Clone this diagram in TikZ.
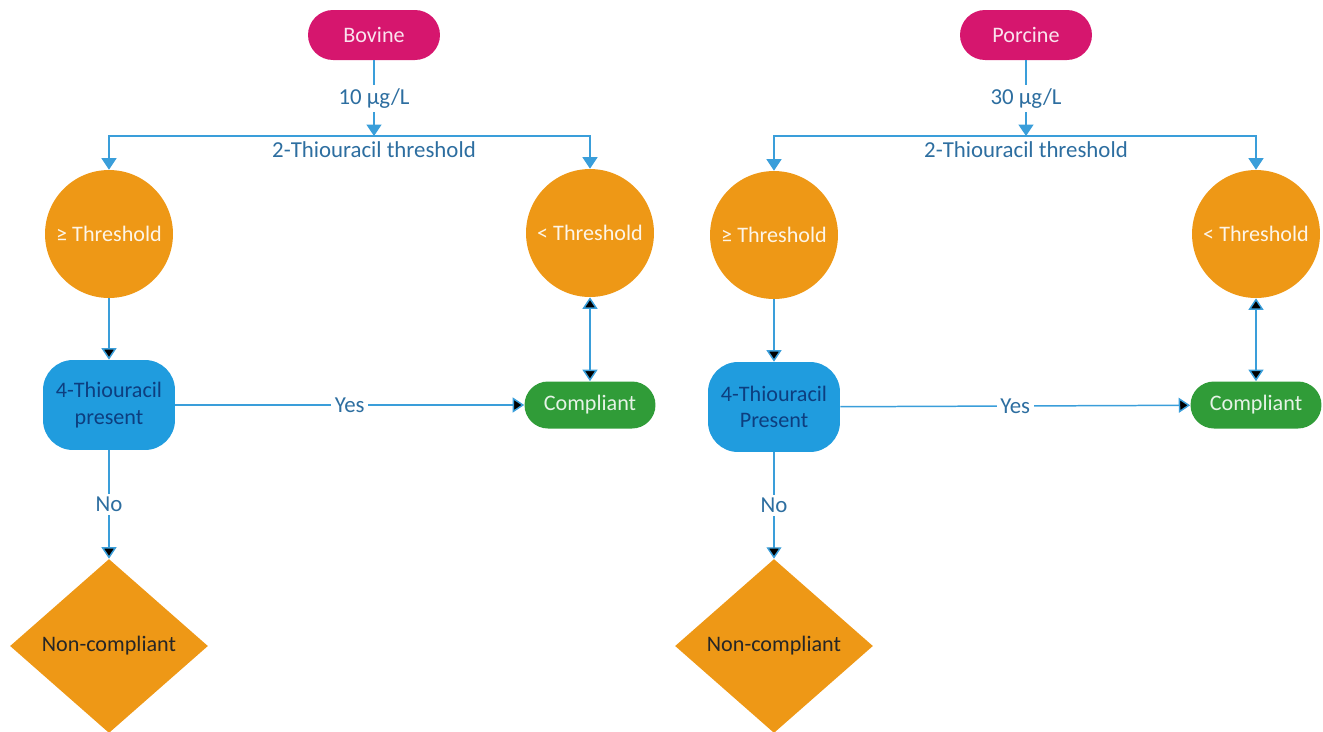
\documentclass[tikz,border=0pt]{standalone}
\usepackage{fontspec}
\setmainfont{Carlito}
\usetikzlibrary{arrows.meta,shapes.geometric}

\definecolor{berry}{RGB}{214,22,110}
\definecolor{amber}{RGB}{238,152,22}
\definecolor{sky}{RGB}{32,156,222}
\definecolor{leaf}{RGB}{48,156,56}
\definecolor{wire}{RGB}{58,158,218}
\definecolor{ink}{RGB}{45,110,160}

\tikzset{
  species/.style={rectangle,rounded corners=0.5cm,fill=berry,text=white!88!berry,
    minimum width=2.64cm,minimum height=1cm},
  level/.style={circle,fill=amber,text=white!90!amber,minimum size=2.56cm,inner sep=0pt},
  check/.style={rectangle,rounded corners=0.6cm,fill=sky,text=black!75!blue!60!sky,
    minimum width=2.64cm,minimum height=1.8cm,align=center},
  pass/.style={rectangle,rounded corners=0.47cm,fill=leaf,text=white!88!leaf,
    minimum width=2.62cm,minimum height=0.94cm},
  fail/.style={diamond,fill=amber,text=black!85,minimum width=3.96cm,minimum height=3.48cm,
    inner sep=0pt,aspect=1.14},
  tag/.style={fill=white,text=ink,inner sep=2pt,font=\fontsize{13}{15}\selectfont},
  link/.style={draw=wire,line width=0.85pt,-{Triangle[width=8.5pt,length=6.5pt]}},
}

\begin{document}
\begin{tikzpicture}[x=0.02cm,y=-0.02cm,font=\fontsize{12.6}{15}\selectfont]
		\useasboundingbox (0,0) rectangle (1323,731);
		% bovine
		\node[species] (bov) at (374,35) {Bovine};
		\coordinate (busL) at (374,136);
		\node[level] (geL) at (109,234) {≥ Threshold};
		\node[level] (ltL) at (590,233) {< Threshold};
		\node[check] (thioL) at (109,405) {4-Thiouracil\\present};
		\node[pass] (okL) at (590,405) {Compliant};
		\node[fail] (failL) at (109,646) {Non-compliant};
		%
		\draw[link] (bov) -- node[tag]{10 µg/L} (busL);
		\draw[link] (busL) -| (geL);
		\draw[link] (busL) -| (ltL);
		\node[tag,below,yshift=-1pt] (ruleL) at (busL) {2-Thiouracil threshold};
		\path[link]
		(geL) edge (thioL)
		(thioL) edge node[tag]{Yes} (okL)
		(thioL) edge node[tag]{No} (failL)
		(ltL) edge[{Triangle[width=8.5pt,length=6.5pt]}-{Triangle[width=8.5pt,length=6.5pt]}] (okL);
		% porcine
		\node[species] (por) at (1026,35) {Porcine};
		\coordinate (busR) at (1026,136);
		\node[level] (geR) at (774,235) {≥ Threshold};
		\node[level] (ltR) at (1256,234) {< Threshold};
		\node[check] (thioR) at (774,407) {4-Thiouracil\\Present};
		\node[pass] (okR) at (1256,405) {Compliant};
		\node[fail] (failR) at (774,646) {Non-compliant};
		%
		\draw[link] (por) -- node[tag]{30 µg/L} (busR);
		\draw[link] (busR) -| (geR);
		\draw[link] (busR) -| (ltR);
		\node[tag,below,yshift=-1pt] (ruleR) at (busR) {2-Thiouracil threshold};
		\path[link]
		(geR) edge (thioR)
		(thioR) edge node[tag]{Yes} (okR)
		(thioR) edge node[tag]{No} (failR)
		(ltR) edge[{Triangle[width=8.5pt,length=6.5pt]}-{Triangle[width=8.5pt,length=6.5pt]}] (okR);
\end{tikzpicture}
\end{document}
